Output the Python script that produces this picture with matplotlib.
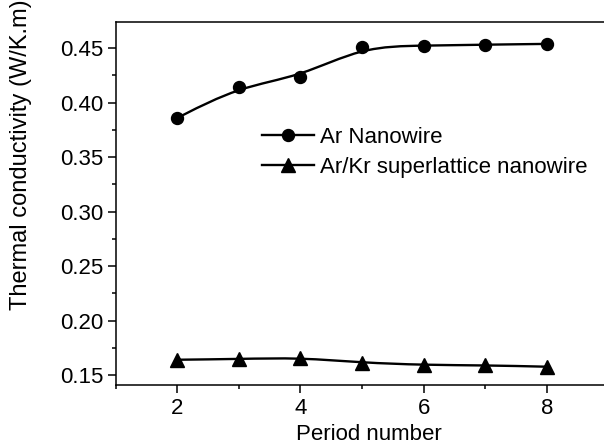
import numpy as np
import matplotlib
matplotlib.use('Agg')
import matplotlib.pyplot as plt
from matplotlib.path import Path
from matplotlib.patches import PathPatch
from matplotlib.lines import Line2D
from matplotlib.ticker import MultipleLocator

plt.rcParams['font.family'] = ['Liberation Sans', 'DejaVu Sans']

period = [2, 3, 4, 5, 6, 7, 8]
ar_nanowire = [0.386, 0.4147, 0.4239, 0.4515, 0.4524, 0.4533, 0.454]
arkr_superlattice = [0.164, 0.1647, 0.1659, 0.1613, 0.1592, 0.1589, 0.1576]


def bspline_path(x, y):
    # uniform cubic B-spline with the data as control points (ends clamped),
    # written out as Bezier segments
    p = np.column_stack([x, y]).astype(float)
    p = np.vstack([p[:1], p[:1], p, p[-1:], p[-1:]])
    verts, codes = [], []
    for i in range(1, len(p) - 2):
        a, b, c, d = p[i - 1], p[i], p[i + 1], p[i + 2]
        b0 = (a + 4 * b + c) / 6
        if not verts:
            verts.append(b0)
            codes.append(Path.MOVETO)
        verts += [(2 * b + c) / 3, (b + 2 * c) / 3, (b + 4 * c + d) / 6]
        codes += [Path.CURVE4] * 3
    return Path(verts, codes)


fig = plt.figure(figsize=(6.04, 4.48), dpi=100)
ax = fig.add_axes([0.1916, 0.1406, 0.8157, 0.811])

lw = 1.7
for yv, mk, ms in [(ar_nanowire, 'o', 8.6), (arkr_superlattice, '^', 9.5)]:
    ax.add_patch(PathPatch(bspline_path(period, yv), facecolor='none',
                           edgecolor='black', lw=lw, zorder=2))
    ax.plot(period, yv, linestyle='none', marker=mk, ms=ms,
            color='black', zorder=3)

ax.set_xlim(1, 9)
ax.set_ylim(0.1408, 0.4744)
ax.xaxis.set_major_locator(MultipleLocator(2))
ax.xaxis.set_minor_locator(MultipleLocator(1))
ax.yaxis.set_major_locator(MultipleLocator(0.05))
ax.yaxis.set_minor_locator(MultipleLocator(0.025))
ax.yaxis.set_major_formatter(plt.FormatStrFormatter('%.2f'))

for sp in ax.spines.values():
    sp.set_linewidth(1.1)
ax.tick_params(which='both', direction='out', width=1.1, labelsize=16,
               top=False, right=False)
ax.tick_params(which='major', length=6, pad=3)
ax.tick_params(which='minor', length=3.2)

ax.set_xlabel('Period number', fontsize=16)
ax.set_ylabel('Thermal conductivity (W/K.m)', fontsize=17)
ax.xaxis.set_label_coords(0.514, -0.107)
ax.yaxis.set_label_coords(-0.17, 0.634)

handles = [
    Line2D([], [], color='black', lw=lw, marker='o', ms=8.6),
    Line2D([], [], color='black', lw=lw, marker='^', ms=9.5),
]
ax.legend(handles, ['Ar Nanowire', 'Ar/Kr superlattice nanowire'],
          loc='center left', bbox_to_anchor=(0.297, 0.64), frameon=False,
          fontsize=16, handlelength=2.34, handletextpad=0.27,
          labelspacing=0.38, borderpad=0, borderaxespad=0)

fig.savefig('out.png', dpi=100)
